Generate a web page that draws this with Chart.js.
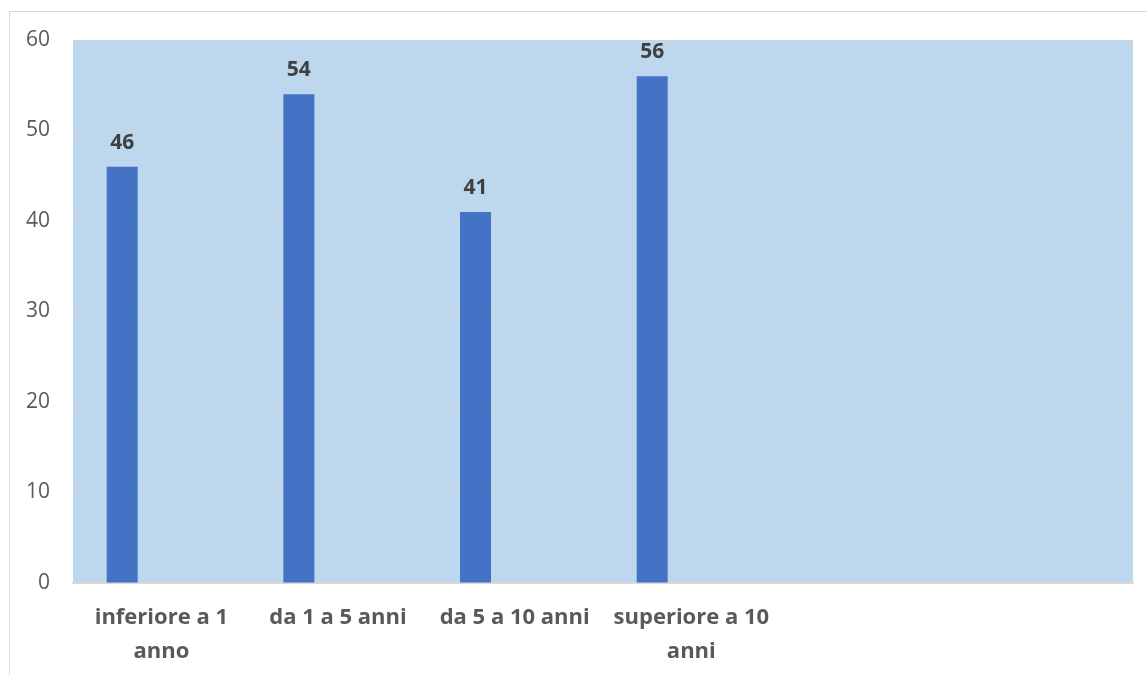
<!DOCTYPE html>
<html>
<head>
<meta charset="utf-8">
<script src="https://cdn.jsdelivr.net/npm/chart.js@4/dist/chart.umd.min.js"></script>
<style>
  html, body { margin: 0; padding: 0; background: #ffffff; }
  #chart { display: block; }
</style>
</head>
<body>
<canvas id="chart" width="1147" height="675"></canvas>
<script>
// Durata (categorie) e conteggi
const categories = [
  ['inferiore a 1', 'anno'],
  'da 1 a 5 anni',
  'da 5 a 10 anni',
  ['superiore a 10', 'anni'],
  '',
  ''
];
const values = [46, 54, 41, 56, null, null];
// second series of the workbook is empty: it only reserves its slot in each group
const emptySeries = [null, null, null, null, null, null];
const yTicks = [0, 10, 20, 30, 40, 50, 60];

const FONT = '"Open Sans", "Liberation Sans", sans-serif';

// Plot background, outer frame and value labels above the bars
const decorations = {
  id: 'decorations',
  beforeDraw(chart) {
    const { ctx, chartArea: a, width, height } = chart;
    ctx.save();
    ctx.fillStyle = '#ffffff';
    ctx.fillRect(0, 0, width, height);
    ctx.strokeStyle = '#d9d9d9';
    ctx.lineWidth = 1;
    ctx.strokeRect(9.5, 11.5, width + 20, height + 20);
    ctx.fillStyle = '#BDD7EE';
    ctx.fillRect(a.left, a.top, a.right - a.left, a.bottom - a.top);
    ctx.restore();
  },
  afterDatasetsDraw(chart) {
    const { ctx } = chart;
    const meta = chart.getDatasetMeta(0);
    ctx.save();
    ctx.font = 'bold 21px ' + FONT;
    ctx.fillStyle = '#404040';
    ctx.textAlign = 'center';
    ctx.textBaseline = 'middle';
    meta.data.forEach((bar, i) => {
      const v = values[i];
      if (v === null || v === undefined) return;
      ctx.fillText(String(v), bar.x, bar.y - 24);
    });
    ctx.restore();
  }
};

new Chart(document.getElementById('chart'), {
  type: 'bar',
  data: {
    labels: categories,
    datasets: [{
      data: values,
      backgroundColor: '#4472C4',
      borderWidth: 0,
      categoryPercentage: 0.886,
      barPercentage: 0.396
    }, {
      data: emptySeries,
      backgroundColor: '#ED7D31',
      borderWidth: 0,
      categoryPercentage: 0.886,
      barPercentage: 0.396
    }]
  },
  options: {
    responsive: false,
    devicePixelRatio: 1,
    animation: false,
    layout: { padding: { top: 40, right: 14, left: 0, bottom: 0 } },
    plugins: {
      legend: { display: false },
      tooltip: { enabled: false }
    },
    scales: {
      x: {
        grid: { display: false, drawTicks: false },
        border: { display: true, color: '#d9d9d9', width: 2 },
        ticks: {
          color: '#595959',
          font: { family: FONT, size: 22, weight: 'bold', lineHeight: '34px' },
          maxRotation: 0,
          minRotation: 0,
          autoSkip: false,
          padding: 18
        },
        afterFit(scale) { scale.height = 92; }
      },
      y: {
        min: 0,
        max: 60,
        afterBuildTicks(scale) { scale.ticks = yTicks.map(v => ({ value: v })); },
        grid: { color: '#d4d4d4', lineWidth: 1, drawTicks: false },
        border: { display: false },
        ticks: {
          color: '#595959',
          font: { family: FONT, size: 21 },
          padding: 23
        },
        afterFit(scale) { scale.width = 73; }
      }
    }
  },
  plugins: [decorations]
});
</script>
</body>
</html>
